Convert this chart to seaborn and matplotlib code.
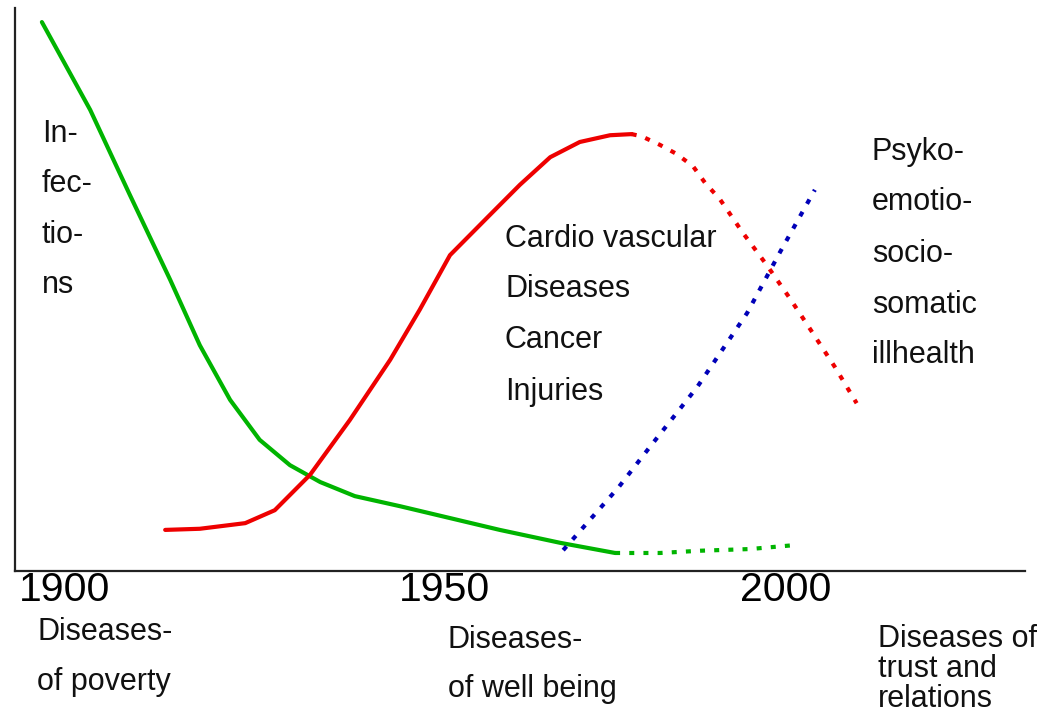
import matplotlib
matplotlib.use("Agg")
import matplotlib.pyplot as plt
import seaborn as sns
import pandas as pd

# ---- data (years, relative burden) ----
green_years = [1896.8, 1903.5, 1909.0, 1914.6, 1918.7, 1922.9, 1927.0, 1931.2, 1935.4,
               1940.2, 1946.5, 1953.4, 1960.3, 1968.7, 1976.3]
green_vals = [97.5, 81.9, 66.8, 51.7, 40.1, 30.4, 23.3, 18.8, 15.8, 13.3, 11.5, 9.4, 7.3, 5.0, 3.2]

green_dot_years = [1976.3, 1982.5, 1988.1, 1995.0, 2001.2]
green_dot_vals = [3.2, 3.2, 3.6, 3.9, 4.6]

red_years = [1913.9, 1918.7, 1925.0, 1929.1, 1934.0, 1939.5, 1945.1, 1949.2, 1953.4,
             1958.9, 1963.1, 1967.3, 1971.4, 1975.6, 1978.6]
red_vals = [7.3, 7.5, 8.5, 10.8, 17.1, 26.8, 37.5, 46.4, 56.1, 63.2, 68.6, 73.5, 76.2, 77.4, 77.6]

red_dot_years = [1978.6, 1980.0, 1982.5, 1984.8, 1987.1, 1988.8, 1990.8, 1994.0, 1997.3,
                 2000.5, 2003.8, 2006.8, 2009.8]
red_dot_vals = [77.6, 77.2, 75.7, 74.1, 71.9, 68.9, 66.1, 60.1, 54.4, 48.5, 42.1, 36.2, 29.8]

blue_dot_years = [1969.1, 1976.8, 1981.1, 1987.7, 1994.6, 1999.2, 2004.0]
blue_dot_vals = [3.7, 14.9, 22.0, 32.7, 45.8, 56.7, 67.7]

tick_pos = [1900, 1952.7, 2000.0]
tick_labels = ["1900", "1950", "2000"]

# ---- styling ----
sns.set_style("white")
plt.rcParams['font.family'] = ['Liberation Sans', 'DejaVu Sans']

W, H = 1048, 715
fig = plt.figure(figsize=(W / 100, H / 100), dpi=100)
ax = fig.add_axes([15 / W, (H - 571) / H, (1025 - 15) / W, (571 - 8) / H])

GREEN = "#00b400"
RED = "#ee0000"
BLUE = "#0000b8"
LW = 3.0
DOT = (0, (1.2, 2.2))

sns.lineplot(x=green_years, y=green_vals, ax=ax, color=GREEN, lw=LW, sort=False)
sns.lineplot(x=green_dot_years, y=green_dot_vals, ax=ax, color=GREEN, lw=LW, linestyle=DOT, sort=False)
sns.lineplot(x=red_years, y=red_vals, ax=ax, color=RED, lw=LW, sort=False)
sns.lineplot(x=red_dot_years, y=red_dot_vals, ax=ax, color=RED, lw=LW, linestyle=DOT, sort=False)
sns.lineplot(x=blue_dot_years, y=blue_dot_vals, ax=ax, color=BLUE, lw=LW, linestyle=DOT, sort=False)

ax.set_xlim(1893.07, 2033.15)
ax.set_ylim(0, 100)
ax.set_yticks([])
ax.set_xticks(tick_pos)
ax.set_xticklabels(tick_labels, fontsize=29.5)
ax.tick_params(axis="x", length=0, pad=0, colors="black")
for s in ["top", "right"]:
    ax.spines[s].set_visible(False)
for s in ["left", "bottom"]:
    ax.spines[s].set_color("#222222")
    ax.spines[s].set_linewidth(1.6)
ax.set_xlabel("")
ax.set_ylabel("")


def ptext(x, y, s, size=22, **kw):
    fig.text(x / W, 1 - y / H, s, fontsize=size, ha="left", va="baseline", color="#111111", **kw)


for y, s in zip([142, 192, 243, 293], ["In-", "fec-", "tio-", "ns"]):
    ptext(42, y, s)
for y, s in zip([247, 297, 348, 400], ["Cardio vascular", "Diseases", "Cancer", "Injuries"]):
    ptext(505, y, s)
for y, s in zip([160, 210, 262, 313, 363], ["Psyko-", "emotio-", "socio-", "somatic", "illhealth"]):
    ptext(872, y, s)
for y, s in zip([640, 690], ["Diseases-", "of poverty"]):
    ptext(37, y, s)
for y, s in zip([648, 697], ["Diseases-", "of well being"]):
    ptext(448, y, s)
ptext(878, 707, "Diseases of\ntrust and\nrelations", linespacing=1.0, multialignment="left")

fig.savefig("out.png", dpi=100)
